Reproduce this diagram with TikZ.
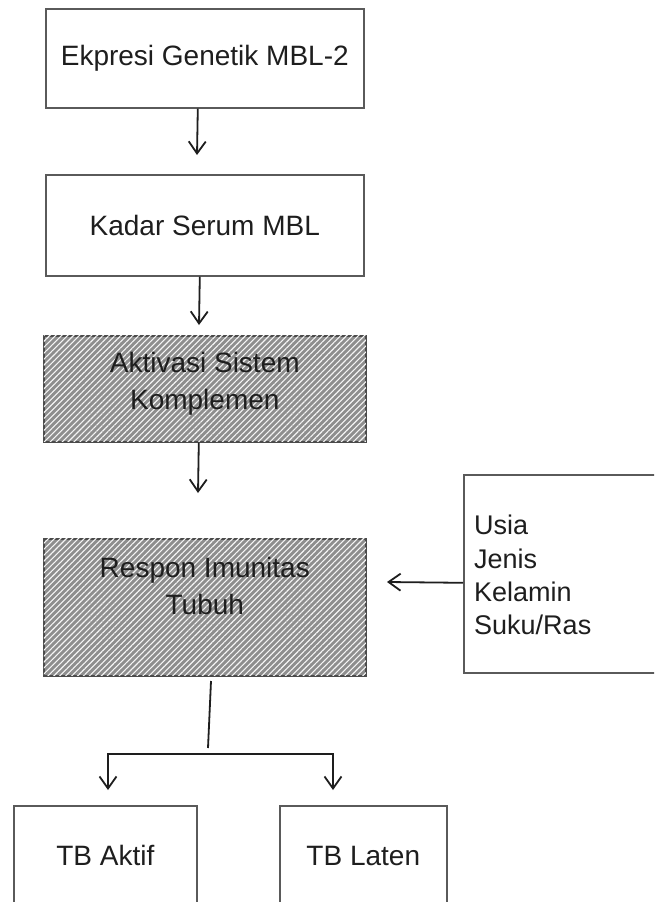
\documentclass[tikz,border=0pt]{standalone}
\usepackage{fontspec}
\setmainfont{Liberation Sans}
\usetikzlibrary{arrows.meta,patterns.meta,calc}
\definecolor{boxline}{HTML}{5A5A5A}
\definecolor{hatchbg}{HTML}{8E8E8E}
\definecolor{ink}{HTML}{1E1E1E}
\begin{document}
\begin{tikzpicture}[x=1pt,y=-1pt,
  plainbox/.style={draw=boxline, line width=1.6pt, fill=white, inner sep=0pt, anchor=north west,
    font=\fontsize{28}{36}\selectfont, text=ink},
  hatchbox/.style={draw=ink!80, line width=1.6pt, fill=hatchbg, inner sep=0pt, anchor=north west,
    postaction={pattern={Lines[angle=45,distance=4.2pt,line width=1.1pt]}, pattern color=white!92!gray}},
  boxtext/.style={inner sep=0pt, align=center, font=\fontsize{28}{37}\selectfont, text=ink},
  conn/.style={draw=ink, line width=1.8pt},
  arr/.style={conn, -{Straight Barb[length=12pt,width=17pt,line width=1.8pt]}}
]
\useasboundingbox (0,0) rectangle (654,902);
\clip (0,0) rectangle (654,902);
\fill[white] (0,0) rectangle (654,902);

% boxes
\node[plainbox, minimum width=318pt, minimum height=99pt] (b1) at (45,8) {Ekpresi Genetik MBL-2};
\node[plainbox, minimum width=318pt, minimum height=101pt] (b2) at (45,174) {Kadar Serum MBL};
\node[hatchbox, minimum width=322pt, minimum height=106pt] (b3) at (43,335) {};
\node[boxtext, anchor=north] (t3) at ($(b3.north)+(0,17)$) {Aktivasi Sistem\\Komplemen};
\node[hatchbox, minimum width=322pt, minimum height=137pt] (b4) at (43,538) {};
\node[boxtext, anchor=north] (t4) at ($(b4.north)+(0,19)$) {Respon Imunitas\\Tubuh};
\node[plainbox, minimum width=230pt, minimum height=198pt] (rb) at (463,474) {};
\node[inner sep=0pt, anchor=north west, align=left, font=\fontsize{27}{33.3}\selectfont, text=ink]
  (rt) at (474,515) {Usia\\Jenis\\Kelamin\\Suku/Ras};
\node[plainbox, minimum width=183pt, minimum height=100pt] (ta) at (13,805) {TB Aktif};
\node[plainbox, minimum width=167pt, minimum height=100pt] (tl) at (279,805) {TB Laten};

% connector end points
\coordinate (a1s) at ($(b1.south)+(-7,0)$);
\coordinate (a1e) at (197,155);
\coordinate (a2s) at ($(b2.south)+(-5,0)$);
\coordinate (a2e) at (199,325);
\coordinate (a3s) at ($(b3.south)+(-6,0)$);
\coordinate (a3e) at (198,493);
\coordinate (rbs) at ($(rb.west)+(0,9)$);
\coordinate (rbe) at (387,582);
\coordinate (ls) at (211,681);
\coordinate (le) at (208,748);
\coordinate (j) at (208,754);
\coordinate (tipA) at (108,790);
\coordinate (tipL) at (333,790);

% connectors
\draw[arr] (a1s) -- (a1e);
\draw[arr] (a2s) -- (a2e);
\draw[arr] (a3s) -- (a3e);
\draw[arr] (rbs) -- (rbe);
\draw[conn] (ls) -- (le);
\draw[arr] (j) -| (tipA);
\draw[arr] (j) -| (tipL);
\end{tikzpicture}
\end{document}
